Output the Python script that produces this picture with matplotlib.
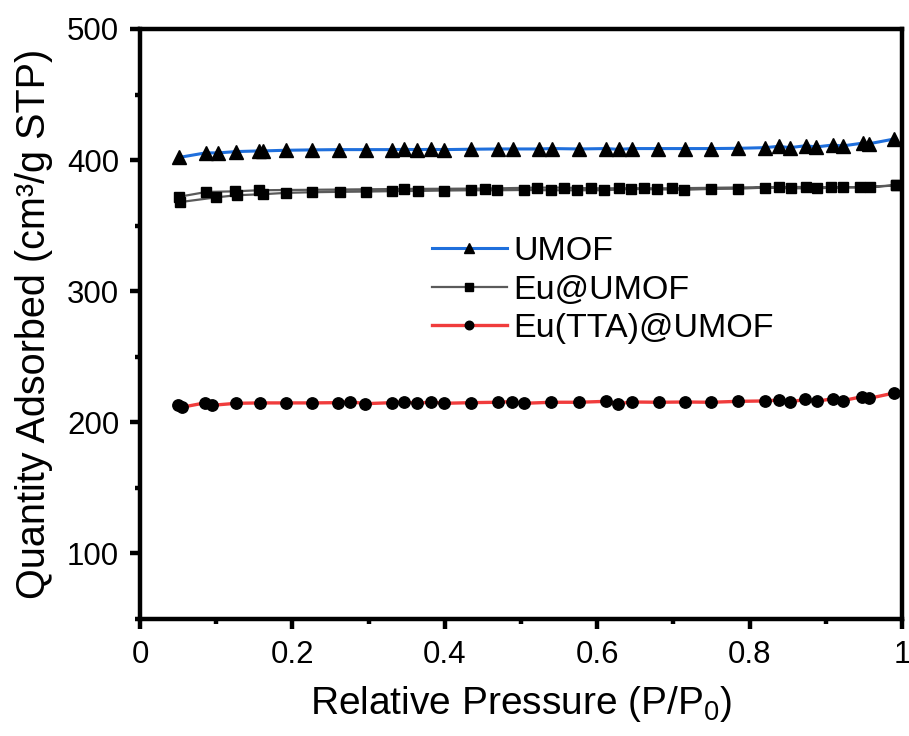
import matplotlib
matplotlib.use("Agg")
import matplotlib.pyplot as plt
from matplotlib.ticker import MultipleLocator, FixedLocator, FixedFormatter

plt.rcParams['font.family'] = ['Liberation Sans', 'DejaVu Sans']
plt.rcParams['mathtext.fontset'] = 'custom'
plt.rcParams['mathtext.rm'] = 'Liberation Sans'

# ---- data ----
umof_x = [0.051, 0.086, 0.103, 0.126, 0.156, 0.161, 0.191, 0.226, 0.261, 0.296, 0.331, 0.347,
          0.364, 0.382, 0.399, 0.435, 0.470, 0.489, 0.524, 0.541, 0.576, 0.612, 0.628, 0.646,
          0.680, 0.715, 0.750, 0.785, 0.820, 0.838, 0.853, 0.874, 0.887, 0.909, 0.922, 0.949,
          0.957, 0.989]
umof_y = [402.0, 405.5, 405.5, 406.5, 407.0, 407.0, 407.5, 407.8, 408.0, 408.0, 408.0, 408.2,
          408.0, 408.2, 408.0, 408.3, 408.5, 408.5, 408.5, 408.8, 408.5, 408.8, 408.2, 408.8,
          408.8, 408.8, 408.8, 409.0, 409.5, 410.5, 409.5, 411.0, 410.0, 411.5, 410.8, 413.0,
          412.5, 416.0]

eu_ads_x = [0.053, 0.100, 0.127, 0.162, 0.191, 0.226, 0.262, 0.296, 0.331, 0.365, 0.399, 0.435,
            0.469, 0.504, 0.539, 0.574, 0.609, 0.644, 0.679, 0.714, 0.749, 0.785, 0.820, 0.854,
            0.889, 0.923, 0.958, 0.992]
eu_ads_y = [368.0, 371.6, 373.2, 374.0, 375.0, 375.5, 375.8, 376.0, 376.3, 376.5, 376.8, 377.0,
            377.0, 377.2, 377.0, 377.0, 377.0, 378.0, 377.7, 377.4, 378.0, 378.2, 379.0, 378.5,
            378.5, 379.3, 379.3, 380.8]
eu_des_x = [0.992, 0.945, 0.907, 0.874, 0.838, 0.698, 0.662, 0.628, 0.592, 0.556, 0.521, 0.453,
            0.347, 0.156, 0.125, 0.087, 0.051]
eu_des_y = [380.8, 379.3, 379.3, 379.5, 379.5, 378.5, 378.5, 378.5, 378.5, 379.0, 379.0, 378.3,
            378.0, 377.0, 376.2, 375.7, 372.0]

tta_x = [0.050, 0.055, 0.085, 0.095, 0.126, 0.157, 0.191, 0.226, 0.260, 0.276, 0.295, 0.331,
         0.347, 0.364, 0.382, 0.399, 0.435, 0.470, 0.488, 0.504, 0.540, 0.576, 0.612, 0.627,
         0.646, 0.681, 0.715, 0.750, 0.785, 0.820, 0.838, 0.853, 0.873, 0.888, 0.909, 0.922,
         0.948, 0.957, 0.990]
tta_y = [213.5, 211.5, 214.8, 213.0, 214.5, 214.8, 214.8, 214.8, 215.0, 215.8, 214.2, 215.0,
         215.5, 214.5, 215.5, 214.5, 215.0, 215.3, 215.8, 214.5, 215.3, 215.3, 216.0, 214.2,
         215.5, 215.3, 215.5, 215.3, 216.0, 216.3, 217.0, 215.5, 217.5, 216.0, 218.0, 216.5,
         219.6, 218.3, 222.4]

labels = ['UMOF', 'Eu@UMOF', 'Eu(TTA)@UMOF']
line_colors = ['#1f6fdc', '#5a5a5a', '#f03c3c']

x_ticks = [0, 0.2, 0.4, 0.6, 0.8, 1.0]
x_tick_labels = ['0', '0.2', '0.4', '0.6', '0.8', '1']
y_ticks = [100, 200, 300, 400, 500]

# ---- figure ----
fig = plt.figure(figsize=(9.09, 7.36), dpi=100)
ax = fig.add_axes([0.154, 0.159, 0.8383, 0.8016])

ax.plot(umof_x, umof_y, color=line_colors[0], lw=2.2, marker='^', ms=10,
        mfc='black', mec='black', label=labels[0], zorder=3)
ax.plot(eu_ads_x + eu_des_x, eu_ads_y + eu_des_y, color=line_colors[1], lw=1.6, marker='s',
        ms=7.8, mfc='black', mec='black', label=labels[1], zorder=3)
ax.plot(tta_x, tta_y, color=line_colors[2], lw=2.4, marker='o', ms=8.2,
        mfc='black', mec='black', label=labels[2], zorder=3)

ax.set_xlim(0, 1)
ax.set_ylim(50, 500)
ax.xaxis.set_major_locator(FixedLocator(x_ticks))
ax.xaxis.set_major_formatter(FixedFormatter(x_tick_labels))
ax.xaxis.set_minor_locator(MultipleLocator(0.1))
ax.yaxis.set_major_locator(FixedLocator(y_ticks))
ax.yaxis.set_minor_locator(MultipleLocator(50))

for s in ax.spines.values():
    s.set_linewidth(3.2)
ax.tick_params(which='major', direction='out', length=7, width=3.2, labelsize=22.5, pad=8)
ax.tick_params(which='minor', direction='out', length=3.5, width=3.2)
ax.tick_params(top=False, right=False, which='both')

ax.set_xlabel('Relative Pressure (P/P$_0$)', fontsize=28, labelpad=10)
ax.set_ylabel('Quantity Adsorbed (cm³/g STP)', fontsize=28.5, labelpad=10)

leg = ax.legend(loc='upper left', bbox_to_anchor=(0.365, 0.672), frameon=False, fontsize=24.5,
                handlelength=2.2, handletextpad=0.2, labelspacing=0.22, borderaxespad=0,
                markerscale=0.75)

fig.savefig('out.png', dpi=100)
